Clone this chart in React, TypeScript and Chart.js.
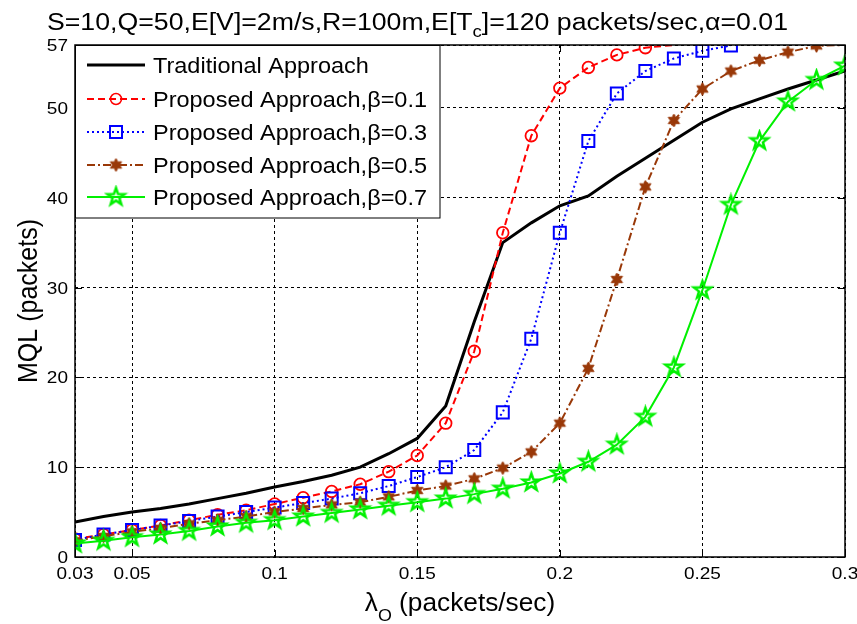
import React, { useEffect, useRef } from 'react';
import { Chart, registerables } from 'chart.js';

Chart.register(...registerables);

// ---------- data ----------
const lambdaValues = [0.03, 0.04, 0.05, 0.06, 0.07, 0.08, 0.09, 0.10, 0.11, 0.12, 0.13, 0.14, 0.15, 0.16, 0.17, 0.18, 0.19, 0.20, 0.21, 0.22, 0.23, 0.24, 0.25, 0.26, 0.27, 0.28, 0.29, 0.30];
const traditional = [3.9, 4.5, 5.0, 5.4, 5.9, 6.5, 7.1, 7.8, 8.4, 9.1, 10.0, 11.5, 13.2, 16.8, 26.2, 35.0, 37.2, 39.1, 40.2, 42.4, 44.4, 46.4, 48.4, 49.9, 51.0, 52.1, 53.1, 54.1];
const beta01 = [2.0, 2.5, 3.0, 3.5, 4.1, 4.7, 5.2, 5.9, 6.6, 7.3, 8.1, 9.5, 11.3, 14.9, 22.9, 36.1, 46.9, 52.2, 54.5, 55.9, 56.7, 57.0];
const beta03 = [1.9, 2.5, 3.0, 3.5, 4.0, 4.5, 5.0, 5.5, 6.0, 6.5, 7.1, 7.9, 8.9, 10.0, 11.9, 16.1, 24.3, 36.1, 46.3, 51.6, 54.1, 55.5, 56.35, 56.95];
const beta05 = [1.8, 2.3, 2.8, 3.2, 3.7, 4.1, 4.5, 5.0, 5.4, 5.8, 6.1, 6.7, 7.4, 7.9, 8.7, 9.9, 11.7, 14.9, 21.0, 30.9, 41.2, 48.6, 52.1, 54.1, 55.3, 56.2, 56.9, 57.0];
const beta07 = [1.5, 1.8, 2.2, 2.5, 2.9, 3.4, 3.8, 4.1, 4.5, 4.9, 5.3, 5.7, 6.1, 6.5, 7.0, 7.6, 8.3, 9.3, 10.6, 12.5, 15.6, 21.1, 29.7, 39.2, 46.3, 50.7, 53.1, 54.7];

const seriesLabels = [
  'Traditional Approach',
  'Proposed Approach,\u03B2=0.1',
  'Proposed Approach,\u03B2=0.3',
  'Proposed Approach,\u03B2=0.5',
  'Proposed Approach,\u03B2=0.7',
];

const xTickValues = [0.03, 0.05, 0.1, 0.15, 0.2, 0.25, 0.3];
const xTickLabels = ['0.03', '0.05', '0.1', '0.15', '0.2', '0.25', '0.3'];
const yTickValues = [0, 10, 20, 30, 40, 50, 57];
const yTickLabels = ['0', '10', '20', '30', '40', '50', '57'];

const titleMain = 'S=10,Q=50,E[V]=2m/s,R=100m,E[T';
const titleSub = 'c';
const titleEnd = ']=120 packets/sec,\u03B1=0.01';
const yAxisTitle = 'MQL (packets)';
const xAxisSymbol = '\u03BB';
const xAxisSub = 'O';
const xAxisRest = ' (packets/sec)';

const X_MIN = 0.03;
const X_MAX = 0.3;
const Y_MIN = 0;
const Y_MAX = 57;

// ---------- styles ----------
const FONT = '"Liberation Sans", Arial, Helvetica, sans-serif';
const RED = '#ff0000';
const BLUE = '#0000ff';
const BROWN = '#993808';
const GREEN = '#00f000';

function makeStar(points: number, outer: number, inner: number, fill: string | null, stroke: string | null, lw: number) {
  const size = Math.ceil(outer * 2 + lw * 2 + 2);
  const c = document.createElement('canvas');
  c.width = size;
  c.height = size;
  const g = c.getContext('2d')!;
  g.translate(size / 2, size / 2);
  g.beginPath();
  for (let i = 0; i < points * 2; i++) {
    const r = i % 2 ? inner : outer;
    const a = -Math.PI / 2 + (i * Math.PI) / points;
    g.lineTo(r * Math.cos(a), r * Math.sin(a));
  }
  g.closePath();
  if (fill) {
    g.fillStyle = fill;
    g.fill();
  }
  if (stroke) {
    g.strokeStyle = stroke;
    g.lineWidth = lw;
    g.lineJoin = 'miter';
    g.stroke();
  }
  return c;
}

function toPoints(values: number[]) {
  return values.map((y, i) => ({ x: lambdaValues[i], y }));
}

function drawText(ctx: CanvasRenderingContext2D, s: string, x: number, y: number, px: number, sx: number, align: 'left' | 'center' | 'right') {
  ctx.save();
  ctx.font = `${px}px ${FONT}`;
  ctx.textBaseline = 'alphabetic';
  ctx.textAlign = 'left';
  const w = ctx.measureText(s).width * sx;
  const x0 = align === 'left' ? x : align === 'center' ? x - w / 2 : x - w;
  ctx.translate(x0, y);
  ctx.scale(sx, 1);
  ctx.fillStyle = '#000';
  ctx.fillText(s, 0, 0);
  ctx.restore();
  return w;
}

function measure(ctx: CanvasRenderingContext2D, s: string, px: number) {
  ctx.save();
  ctx.font = `${px}px ${FONT}`;
  const w = ctx.measureText(s).width;
  ctx.restore();
  return w;
}

export default function App() {
  const canvasRef = useRef<HTMLCanvasElement | null>(null);

  useEffect(() => {
    document.body.style.margin = '0';
    const canvas = canvasRef.current;
    if (!canvas) return;

    const pentagram = makeStar(5, 9, 3.6, null, GREEN, 2.5);
    const hexagram = makeStar(6, 6.5, 3.6, BROWN, BROWN, 1);
    const hideAtTop = (r: number) => (c: any) => (c.parsed && c.parsed.y >= Y_MAX ? 0 : r);

    const seriesStyles = [
      { color: '#000', width: 3, dash: [] as number[], marker: 'none' },
      { color: RED, width: 2, dash: [7, 4], marker: 'circle' },
      { color: BLUE, width: 2, dash: [2, 3], marker: 'square' },
      { color: BROWN, width: 2, dash: [8, 3, 2, 3], marker: 'hex' },
      { color: GREEN, width: 2, dash: [] as number[], marker: 'pent' },
    ];

    const overlay = {
      id: 'overlay',
      afterDraw(chart: any) {
        const ctx: CanvasRenderingContext2D = chart.ctx;
        const a = chart.chartArea;
        const xs = chart.scales.x;
        const ys = chart.scales.y;
        ctx.save();
        ctx.setLineDash([]);
        ctx.strokeStyle = '#000';
        ctx.lineWidth = 1;
        const seg = (x1: number, y1: number, x2: number, y2: number) => {
          ctx.beginPath();
          ctx.moveTo(x1, y1);
          ctx.lineTo(x2, y2);
          ctx.stroke();
        };
        // inward tick marks
        xTickValues.forEach((v) => {
          const px = Math.round(xs.getPixelForValue(v)) + 0.5;
          seg(px, a.bottom, px, a.bottom - 7);
          seg(px, a.top, px, a.top + 7);
        });
        yTickValues.forEach((v) => {
          const py = Math.round(ys.getPixelForValue(v)) + 0.5;
          seg(a.left, py, a.left + 7, py);
          seg(a.right, py, a.right - 7, py);
        });

        // legend
        const lx = a.left + 0.5;
        const ly = a.top + 0.5;
        const lw = 440 - lx;
        const lh = 218 - ly;
        ctx.fillStyle = '#fff';
        ctx.fillRect(lx, ly, lw, lh);
        ctx.strokeStyle = '#000';
        ctx.lineWidth = 1;
        ctx.strokeRect(lx, ly, lw, lh);
        const legendPx = 22;
        const legendSx = 274 / measure(ctx, seriesLabels[1], legendPx);
        const rows = [65, 99, 132, 165, 197];
        seriesStyles.forEach((st, i) => {
          const y = rows[i];
          ctx.save();
          ctx.strokeStyle = st.color;
          ctx.lineWidth = st.width;
          ctx.setLineDash(st.dash);
          seg(87, y, 145, y);
          ctx.restore();
          const mx = 116;
          ctx.save();
          ctx.setLineDash([]);
          if (st.marker === 'circle') {
            ctx.strokeStyle = st.color;
            ctx.lineWidth = 1.5;
            ctx.beginPath();
            ctx.arc(mx, y, 5.5, 0, Math.PI * 2);
            ctx.stroke();
          } else if (st.marker === 'square') {
            ctx.strokeStyle = st.color;
            ctx.lineWidth = 2;
            ctx.strokeRect(mx - 6, y - 6, 12, 12);
          } else if (st.marker === 'hex') {
            ctx.drawImage(hexagram, mx - hexagram.width / 2, y - hexagram.height / 2);
          } else if (st.marker === 'pent') {
            ctx.drawImage(pentagram, mx - pentagram.width / 2, y - pentagram.height / 2);
          }
          ctx.restore();
          drawText(ctx, seriesLabels[i], 153, y + 8, legendPx, legendSx, 'left');
        });

        // plot border
        ctx.strokeStyle = '#000';
        ctx.lineWidth = 1.5;
        ctx.strokeRect(a.left, a.top, a.right - a.left, a.bottom - a.top);

        // tick labels
        const tickPx = 16.5;
        const tickSx = 37 / measure(ctx, '0.05', tickPx);
        xTickValues.forEach((v, i) => {
          drawText(ctx, xTickLabels[i], xs.getPixelForValue(v), 579, tickPx, tickSx, 'center');
        });
        yTickValues.forEach((v, i) => {
          drawText(ctx, yTickLabels[i], 68, ys.getPixelForValue(v) + 6, tickPx, tickSx, 'right');
        });

        // x axis title
        const axPx = 25;
        const axSx = 1.05;
        const subPx = 17;
        const wSym = measure(ctx, xAxisSymbol, axPx) * axSx;
        const wSub = measure(ctx, xAxisSub, subPx) * axSx;
        const wRest = measure(ctx, xAxisRest, axPx) * axSx;
        let cx = (a.left + a.right) / 2 - (wSym + wSub + wRest) / 2;
        cx += drawText(ctx, xAxisSymbol, cx, 611, axPx, axSx, 'left');
        cx += drawText(ctx, xAxisSub, cx, 621, subPx, axSx, 'left');
        drawText(ctx, xAxisRest, cx, 611, axPx, axSx, 'left');

        // y axis title
        ctx.save();
        ctx.translate(37, (a.top + a.bottom) / 2);
        ctx.rotate(-Math.PI / 2);
        ctx.scale(1, 1.12);
        ctx.font = `${axPx}px ${FONT}`;
        ctx.textAlign = 'center';
        ctx.textBaseline = 'alphabetic';
        ctx.fillStyle = '#000';
        ctx.fillText(yAxisTitle, 0, 0);
        ctx.restore();

        // title
        const tPx = 23;
        const tSub = 16;
        const w1 = measure(ctx, titleMain, tPx);
        const w2 = measure(ctx, titleSub, tSub);
        const w3 = measure(ctx, titleEnd, tPx);
        const tSx = 741 / (w1 + w2 + w3);
        let tx = 47;
        tx += drawText(ctx, titleMain, tx, 29.5, tPx, tSx, 'left');
        tx += drawText(ctx, titleSub, tx, 37, tSub, tSx, 'left');
        drawText(ctx, titleEnd, tx, 29.5, tPx, tSx, 'left');

        ctx.restore();
      },
    };

    const chart = new Chart(canvas, {
      type: 'line',
      data: {
        datasets: [
          {
            label: seriesLabels[0],
            data: toPoints(traditional),
            borderColor: '#000',
            borderWidth: 3,
            pointRadius: 0,
            order: 4,
          },
          {
            label: seriesLabels[1],
            data: toPoints(beta01),
            borderColor: RED,
            borderWidth: 2,
            borderDash: [7, 4],
            pointStyle: 'circle',
            pointRadius: hideAtTop(5.8),
            pointBorderWidth: 1.8,
            pointBorderColor: RED,
            pointBackgroundColor: 'rgba(0,0,0,0)',
            order: 3,
          },
          {
            label: seriesLabels[2],
            data: toPoints(beta03),
            borderColor: BLUE,
            borderWidth: 2,
            borderDash: [2, 3],
            pointStyle: 'rect',
            pointRadius: hideAtTop(8.5),
            pointBorderWidth: 2,
            pointBorderColor: BLUE,
            pointBackgroundColor: 'rgba(0,0,0,0)',
            order: 2,
          },
          {
            label: seriesLabels[3],
            data: toPoints(beta05),
            borderColor: BROWN,
            borderWidth: 2,
            borderDash: [8, 3, 2, 3],
            pointStyle: hexagram as any,
            pointRadius: hideAtTop(6),
            order: 1,
          },
          {
            label: seriesLabels[4],
            data: toPoints(beta07),
            borderColor: GREEN,
            borderWidth: 2,
            pointStyle: pentagram as any,
            pointRadius: hideAtTop(8),
            order: 0,
          },
        ] as any,
      },
      options: {
        animation: false,
        responsive: false,
        events: [],
        layout: { padding: { left: 75, right: 12, top: 45, bottom: 67 } },
        elements: { line: { tension: 0 } },
        plugins: {
          legend: { display: false },
          title: { display: false },
          tooltip: { enabled: false },
        },
        scales: {
          x: {
            type: 'linear',
            min: X_MIN,
            max: X_MAX,
            afterBuildTicks: (s: any) => {
              s.ticks = xTickValues.map((v) => ({ value: v }));
            },
            ticks: { display: false },
            grid: { color: '#000', lineWidth: 1, drawTicks: false },
            border: { display: false, dash: [3, 3] },
          },
          y: {
            type: 'linear',
            min: Y_MIN,
            max: Y_MAX,
            afterBuildTicks: (s: any) => {
              s.ticks = yTickValues.map((v) => ({ value: v }));
            },
            ticks: { display: false },
            grid: { color: '#000', lineWidth: 1, drawTicks: false },
            border: { display: false, dash: [3, 3] },
          },
        },
      } as any,
      plugins: [overlay],
    });

    return () => chart.destroy();
  }, []);

  return (
    <div style={{ width: 857, height: 624, background: '#fff' }}>
      <canvas ref={canvasRef} width={857} height={624} style={{ display: 'block' }} />
    </div>
  );
}
